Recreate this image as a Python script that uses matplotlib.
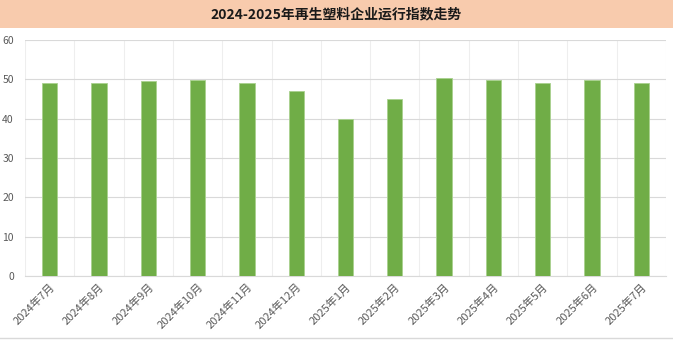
import matplotlib.pyplot as plt
import numpy as np

plt.rcParams['font.family'] = ['Noto Sans CJK SC', 'DejaVu Sans']

months = ['2024年7月', '2024年8月', '2024年9月', '2024年10月', '2024年11月', '2024年12月',
          '2025年1月', '2025年2月', '2025年3月', '2025年4月', '2025年5月', '2025年6月', '2025年7月']
index_values = [49.0, 49.0, 49.6, 49.9, 49.0, 47.1, 40.0, 45.0, 50.4, 49.9, 49.0, 49.9, 49.0]

fig = plt.figure(figsize=(6.73, 3.40), dpi=100)

# title band
fig.patches.append(plt.Rectangle((0, 1 - 28 / 340), 1, 28 / 340, transform=fig.transFigure,
                                 facecolor='#F8CBAD', edgecolor='none', zorder=0))
fig.text(0.5, 1 - 14 / 340, '2024-2025年再生塑料企业运行指数走势', ha='center', va='center',
         fontsize=10, fontweight='bold', color='#1a1a1a')
# bottom border
fig.add_artist(plt.Line2D([0, 1], [2 / 340, 2 / 340], transform=fig.transFigure,
                          color='#d9d9d9', lw=1))

ax = fig.add_axes([25 / 673, 1 - 276 / 340, 641 / 673, 236 / 340])
x = np.arange(len(months))
ax.bar(x, index_values, width=0.31, color='#70AD47', edgecolor='#a9d18e', linewidth=0.6, zorder=3)

ax.set_xlim(-0.5, len(months) - 0.5)
ax.set_ylim(0, 60)
ax.set_yticks(range(0, 61, 10))
ax.set_xticks(x)
ax.set_xticklabels(months, rotation=45, ha='right', rotation_mode='anchor',
                   fontsize=8, color='#595959')
ax.tick_params(axis='y', labelsize=7.5, labelcolor='#595959', length=0, pad=8)
ax.tick_params(axis='x', length=0, pad=4)

ax.set_xticks(np.arange(-0.5, len(months), 1), minor=True)
ax.grid(axis='y', which='major', color='#d9d9d9', lw=0.8, zorder=0)
ax.grid(axis='x', which='minor', color='#eeeeee', lw=0.8, zorder=0)
ax.tick_params(which='minor', length=0)

for s in ['top', 'right', 'left']:
    ax.spines[s].set_visible(False)
ax.spines['bottom'].set_color('#d9d9d9')

fig.savefig('out.png', dpi=100)
